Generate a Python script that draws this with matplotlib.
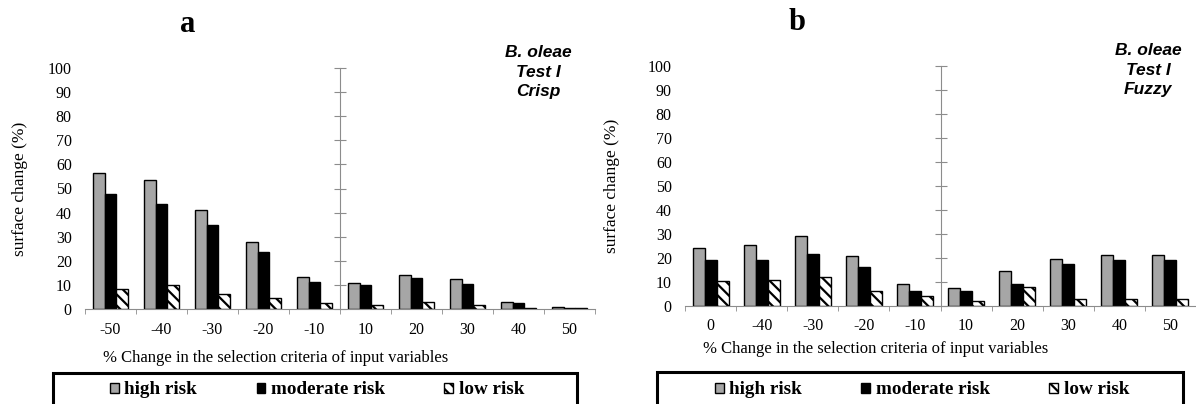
import matplotlib
matplotlib.use("Agg")
import matplotlib.pyplot as plt
import numpy as np
from matplotlib.patches import Patch, Rectangle

plt.rcParams["font.family"] = ["Liberation Serif", "DejaVu Serif"]
plt.rcParams["hatch.linewidth"] = 1.6

GRAY, AXIS = "#a6a6a6", "#8c8c8c"

# panel a : crisp
labels_a = ["-50", "-40", "-30", "-20", "-10", "10", "20", "30", "40", "50"]
high_a = [56.4, 53.5, 41.2, 28.0, 13.4, 10.6, 14.0, 12.3, 2.8, 0.8]
mod_a = [47.7, 43.6, 35.0, 23.6, 11.0, 9.8, 13.0, 10.5, 2.4, 0.6]
low_a = [8.5, 10.1, 6.2, 4.6, 2.4, 1.5, 2.7, 1.8, 0.6, 0.3]

# panel b : fuzzy
labels_b = ["0", "-40", "-30", "-20", "-10", "10", "20", "30", "40", "50"]
high_b = [24.0, 25.5, 29.0, 20.7, 9.0, 7.3, 14.6, 19.6, 21.1, 21.1]
mod_b = [19.0, 19.3, 21.5, 16.4, 6.2, 6.4, 9.0, 17.6, 19.0, 19.0]
low_b = [10.5, 11.0, 12.0, 6.4, 4.0, 2.0, 8.0, 2.8, 2.8, 2.8]

W, H = 1196, 404
fig = plt.figure(figsize=(W / 100, H / 100), dpi=100)


def px_axes(x0, x1, y0, y100):
    return fig.add_axes([x0 / W, (H - y0) / H, (x1 - x0) / W, (y0 - y100) / H])


def panel(ax, labels, high, mod, low, letter, method, letter_x, note_x,
          xlab_y, ylab_x):
    x = np.arange(len(labels))
    bw = 0.235
    ax.bar(x - bw, high, bw, color=GRAY, edgecolor="black", linewidth=1)
    ax.bar(x, mod, bw, color="black", edgecolor="black", linewidth=1)
    ax.bar(x + bw, low, bw, color="white", edgecolor="black", linewidth=1,
           hatch="\\\\\\")
    ax.set_xlim(-0.5, len(labels) - 0.5)
    ax.set_ylim(0, 100)
    for s in ("top", "right", "left"):
        ax.spines[s].set_visible(False)
    ax.spines["bottom"].set_color(AXIS)
    ax.set_yticks(range(0, 101, 10))
    ax.tick_params(axis="y", length=0, pad=9.5, labelsize=11.5)
    ax.set_xticks(x)
    ax.set_xticklabels(labels)
    ax.set_xticks(np.arange(-0.5, len(labels)), minor=True)
    ax.tick_params(axis="x", which="major", length=0, pad=9, labelsize=11.5)
    ax.tick_params(axis="x", which="minor", length=3.5, color=AXIS)

    # y axis line crossing in the middle of the categories
    mid = ax.secondary_yaxis(0.5)
    mid.spines["left"].set_visible(False)
    mid.spines["right"].set_color(AXIS)
    mid.set_yticks(range(0, 101, 10))
    mid.set_yticklabels([])
    mid.tick_params(axis="y", direction="inout", length=8, color=AXIS,
                    labelleft=False, labelright=False)

    ax.set_xlabel("% Change in the selection criteria of input variables",
                  fontsize=12, va="center")
    ax.xaxis.set_label_coords(0.373, xlab_y)
    ax.set_ylabel("surface change (%)", fontsize=12.5, va="center")
    ax.yaxis.set_label_coords(ylab_x, 0.5)

    ax.text(letter_x, 1.18, letter, transform=ax.transAxes, ha="center",
            va="center", fontsize=22, fontweight="bold")
    ax.text(note_x, 0.983, "B. oleae\nTest I\n" + method,
            transform=ax.transAxes, ha="center", va="center", fontsize=12.5,
            fontweight="bold", style="italic", family=["Liberation Sans"],
            linespacing=1.38)


ax_a = px_axes(85, 595, 309, 68)
panel(ax_a, labels_a, high_a, mod_a, low_a, "a", "Crisp", 0.202, 0.888,
      -0.203, -0.127)
ax_b = px_axes(685, 1196, 306, 66)
panel(ax_b, labels_b, high_b, mod_b, low_b, "b", "Fuzzy", 0.219, 0.906,
      -0.178, -0.143)

handles = [Patch(facecolor=GRAY, edgecolor="black", label="high risk"),
           Patch(facecolor="black", edgecolor="black", label="moderate risk"),
           Patch(facecolor="white", edgecolor="black", hatch="\\\\\\",
                 label="low risk")]

for bx0, bx1, btop, cx in ((53, 577, 373, 317), (657, 1183, 372, 922)):
    fig.patches.append(Rectangle((bx0 / W, -0.1), (bx1 - bx0) / W,
                                 (H - btop) / H + 0.1, transform=fig.transFigure,
                                 fill=False, edgecolor="black", linewidth=2.2))
    fig.legend(handles=handles, loc="center", ncol=3,
               bbox_to_anchor=(cx / W, (H - 390) / H), frameon=False,
               prop={"weight": "bold", "size": 13.8}, handlelength=0.45,
               handleheight=0.45, handletextpad=0.3, columnspacing=3.1)

fig.savefig("out.png", dpi=100)
